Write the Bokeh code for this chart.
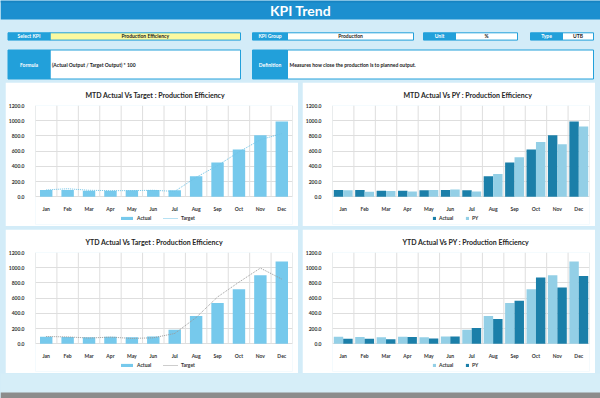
from bokeh.plotting import figure
from bokeh.layouts import column, row
from bokeh.models import (Range1d, FixedTicker, NumeralTickFormatter, Legend, LegendItem,
                          Spacer, ColumnDataSource, BoxAnnotation)
from bokeh.core.properties import value
from bokeh.embed import file_html
from bokeh.resources import INLINE

# ---------------- data ----------------
months = ["Jan", "Feb", "Mar", "Apr", "May", "Jun", "Jul", "Aug", "Sep", "Oct", "Nov", "Dec"]
mtd_actual = [88, 88, 80, 80, 85, 88, 85, 270, 450, 620, 808, 988]
mtd_target = [90, 105, 85, 80, 80, 85, 70, 255, 410, 590, 750, 830]
mtd_py = [85, 65, 74, 70, 90, 95, 70, 300, 520, 720, 690, 925]
ytd_actual = [92, 88, 85, 92, 86, 95, 185, 364, 537, 717, 900, 1080]
ytd_target = [95, 90, 75, 87, 70, 78, 135, 345, 615, 810, 995, 850]
ytd_py = [65, 65, 60, 87, 70, 95, 208, 325, 567, 871, 741, 892]
y_ticks = [0, 200, 400, 600, 800, 1000, 1200]

kpi_name = "Production Efficiency"
kpi_group = "Production"
kpi_unit = "%"
kpi_type = "UTB"
kpi_formula = "(Actual Output / Target Output) * 100"
kpi_definition = "Measures how close the production is to planned output."

# ---------------- style ----------------
FONT = "Lato"
PAGE_BG = "#d3ecf8"
HEAD_BLUE = "#1c8fcf"
LABEL_BLUE = "#22a0da"
YELLOW = "#fbf9a0"
SKY = "#76c9ec"
DARK = "#1b7fa9"
LIGHT = "#93cfe6"
GRID = "#dedede"
TXT = "#333333"
PANEL_W, PANEL_H = 293, 144
FRAME_L, FRAME_R, FRAME_T, FRAME_B = 28, 6, 22, 2
FRAME_H = PANEL_H - FRAME_T - FRAME_B
ZERO_PX = 92                      # pixels from frame top down to the value 0
Y_MAX = y_ticks[-1]
Y_LO = -Y_MAX * (FRAME_H - ZERO_PX) / ZERO_PX   # room below 0 for month labels and legend


def chart(title, title_offset):
    p = figure(width=PANEL_W, height=PANEL_H, output_backend="svg", toolbar_location=None,
               x_range=Range1d(0.5, len(months) + 0.5), y_range=Range1d(Y_LO, Y_MAX),
               min_border_left=FRAME_L, min_border_right=FRAME_R,
               min_border_top=FRAME_T, min_border_bottom=FRAME_B,
               background_fill_color="white", border_fill_color="white", outline_line_color=None)
    p.title.text = title
    p.title.align = "left"
    p.title.offset = title_offset
    p.title.standoff = 13
    p.title.text_font = FONT
    p.title.text_font_size = "7px"
    p.title.text_font_style = "bold"
    p.title.text_color = "#262626"
    idx = [i + 1 for i in range(len(months))]
    p.xaxis.ticker = FixedTicker(ticks=idx)
    p.xaxis.major_label_overrides = {i: m for i, m in zip(idx, months)}
    p.xaxis.fixed_location = 0
    p.yaxis.ticker = FixedTicker(ticks=y_ticks)
    p.yaxis.formatter = NumeralTickFormatter(format="0.0")
    for ax in (p.xaxis, p.yaxis):
        ax.axis_line_color = None
        ax.major_tick_line_color = None
        ax.minor_tick_line_color = None
        ax.major_label_text_font = FONT
        ax.major_label_text_font_size = "5px"
        ax.major_label_text_font_style = "bold"
        ax.major_label_text_color = TXT
    p.xaxis.major_label_standoff = 3
    p.yaxis.major_label_standoff = 5
    p.xgrid.visible = False
    p.ygrid.grid_line_color = GRID
    bounds = [i + 0.5 for i in range(len(months) + 1)]
    vg = p.segment(x0=bounds, y0=[y_ticks[0]] * len(bounds), x1=bounds, y1=[Y_MAX] * len(bounds),
                   line_color=GRID, line_width=1)
    vg.level = "underlay"
    p.add_layout(BoxAnnotation(left=0.75, right=PANEL_W - 0.75, top=0.75, bottom=PANEL_H - 0.75,
                               left_units="canvas", right_units="canvas",
                               top_units="canvas", bottom_units="canvas",
                               fill_alpha=0, line_color="#c6e5d0", line_width=1.5))
    return p


def legend(items, gw, gh, x):
    return Legend(items=items, orientation="horizontal", location=(x, 3),
                  glyph_width=gw, glyph_height=gh, label_height=5, label_standoff=3,
                  spacing=6, padding=0, margin=0, border_line_color=None,
                  background_fill_alpha=0, label_text_font=FONT, label_text_font_size="5px",
                  label_text_font_style="bold", label_text_color=TXT)


def actual_vs_target(title, title_offset, actual, target, tcolor):
    p = chart(title, title_offset)
    src = ColumnDataSource(dict(x=[i + 1 for i in range(len(months))], a=actual, t=target))
    rb = p.vbar(x="x", top="a", width=0.58, source=src, fill_color=SKY, line_color=None)
    rl = p.line(x="x", y="t", source=src, line_color=tcolor, line_width=1, line_dash="1 1")
    p.add_layout(legend([LegendItem(label="Actual", renderers=[rb]),
                         LegendItem(label="Target", renderers=[rl])], 15, 4, 84))
    return p


def actual_vs_py(title, title_offset, first, second, c1, c2, n1, n2):
    p = chart(title, title_offset)
    src = ColumnDataSource(dict(x1=[i + 0.78 for i in range(len(months))],
                                x2=[i + 1.22 for i in range(len(months))], a=first, b=second))
    r1 = p.vbar(x="x1", top="a", width=0.44, source=src, fill_color=c1, line_color=None)
    r2 = p.vbar(x="x2", top="b", width=0.44, source=src, fill_color=c2, line_color=None)
    p.add_layout(legend([LegendItem(label=n1, renderers=[r1]),
                         LegendItem(label=n2, renderers=[r2])], 4, 4, 100))
    return p


p1 = actual_vs_target("MTD Actual Vs Target : Production Efficiency", 50, mtd_actual, mtd_target, "#6fc3e6")
p2 = actual_vs_py("MTD Actual Vs PY : Production Efficiency", 71, mtd_actual, mtd_py, DARK, LIGHT, "Actual", "PY")
p3 = actual_vs_target("YTD Actual Vs Target : Production Efficiency", 50, ytd_actual, ytd_target, "#9a9a9a")
p4 = actual_vs_py("YTD Actual Vs PY : Production Efficiency", 70, ytd_actual, ytd_py, LIGHT, DARK, "Actual", "PY")

# ---------------- header ----------------
hdr = figure(width=600, height=82, x_range=Range1d(0, 600), y_range=Range1d(82, 0),
             output_backend="svg", toolbar_location=None, min_border=0, outline_line_color=None,
             background_fill_color=PAGE_BG, border_fill_color=PAGE_BG)
hdr.axis.visible = False
hdr.grid.visible = False
hdr.quad(left=[0], right=[600], top=[0], bottom=[19], fill_color=HEAD_BLUE, line_color=None)
hdr.quad(left=[0], right=[600], top=[0], bottom=[2], fill_color="#1784c2", line_color=None)
hdr.text(x=[300], y=[10], text=["KPI Trend"], text_align="center", text_baseline="middle",
         text_font=value(FONT), text_font_size="14px", text_font_style="bold", text_color="white")

lab_l = [7.5, 252, 423, 530, 7.5, 252]
lab_r = [49.5, 287, 455, 562, 49.5, 287]
val_r = [240, 413, 517, 593, 240, 593]
row_t = [32.3, 32.3, 32.3, 32.3, 49.5, 49.5]
row_b = [39.6, 39.6, 39.6, 39.6, 78.5, 78.5]
labels = ["Select KPI", "KPI Group", "Unit", "Type", "Formula", "Definition"]
values = [kpi_name, kpi_group, kpi_unit, kpi_type, kpi_formula, kpi_definition]
fills = [YELLOW, "white", "white", "white", "white", "white"]

hdr.quad(left=lab_r, right=val_r, top=row_t, bottom=row_b, fill_color=fills,
         line_color=LABEL_BLUE, line_width=1)
hdr.quad(left=lab_l, right=lab_r, top=row_t, bottom=row_b, fill_color=LABEL_BLUE,
         line_color=LABEL_BLUE, line_width=1)
mid = [(t + b) / 2 for t, b in zip(row_t, row_b)]
hdr.text(x=[(a + b) / 2 for a, b in zip(lab_l, lab_r)], y=mid, text=labels,
         text_align="center", text_baseline="middle", text_font=value(FONT),
         text_font_size="5px", text_font_style="bold", text_color="white")
hdr.text(x=[(a + b) / 2 for a, b in zip(lab_r[:4], val_r[:4])], y=mid[:4], text=values[:4],
         text_align="center", text_baseline="middle", text_font=value(FONT),
         text_font_size="5px", text_font_style="bold", text_color="#1a1a1a")
hdr.text(x=[a + 2 for a in lab_r[4:]], y=mid[4:], text=values[4:],
         text_align="left", text_baseline="middle", text_font=value(FONT),
         text_font_size="5px", text_font_style="bold", text_color="#1a1a1a")

# ---------------- footer ----------------
ftr = figure(width=600, height=25, x_range=Range1d(0, 600), y_range=Range1d(398, 373),
             output_backend="svg", toolbar_location=None, min_border=0, outline_line_color=None,
             background_fill_color="#d6eef8", border_fill_color="#d6eef8")
ftr.axis.visible = False
ftr.grid.visible = False
ftr.quad(left=[0], right=[600], top=[392], bottom=[398], fill_color="#8c8c8c", line_color=None)

bg = {"background-color": PAGE_BG}
row1 = row(Spacer(width=5, height=PANEL_H), p1, Spacer(width=4, height=PANEL_H), p2,
           Spacer(width=5, height=PANEL_H))
row2 = row(Spacer(width=5, height=PANEL_H), p3, Spacer(width=4, height=PANEL_H), p4,
           Spacer(width=5, height=PANEL_H))
root = column(hdr, row1, Spacer(width=600, height=3), row2, ftr, styles=bg)

open("out.html", "w").write(file_html(root, INLINE))
